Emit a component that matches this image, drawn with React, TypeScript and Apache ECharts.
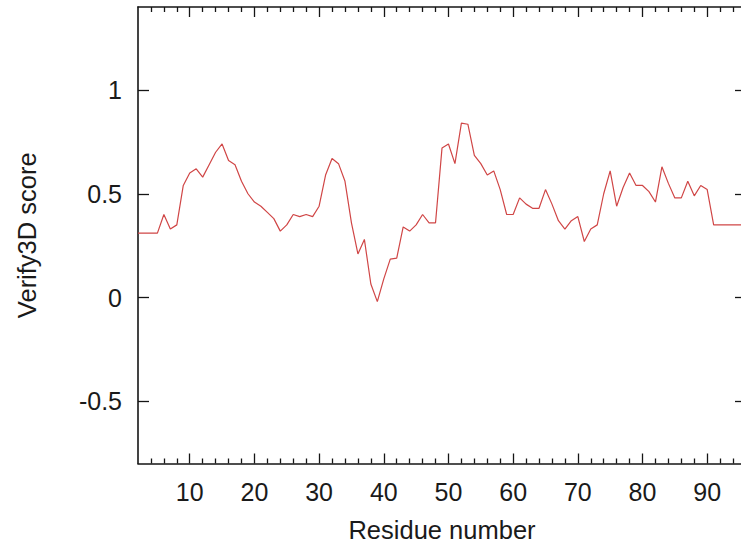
import React, { useEffect, useRef } from "react";
import * as echarts from "echarts";

const residues: number[] = [
  2, 3, 4, 5, 6, 7, 8, 9, 10, 11, 12, 13, 14, 15, 16, 17, 18, 19, 20, 21, 22, 23, 24, 25, 26, 27, 28, 29, 30, 31,
  32, 33, 34, 35, 36, 37, 38, 39, 40, 41, 42, 43, 44, 45, 46, 47, 48, 49, 50, 51, 52, 53, 54, 55, 56, 57, 58, 59, 60,
  61, 62, 63, 64, 65, 66, 67, 68, 69, 70, 71, 72, 73, 74, 75, 76, 77, 78, 79, 80, 81, 82, 83, 84, 85, 86, 87, 88, 89,
  90, 91, 92, 93, 94, 95, 96,
];

const scores: number[] = [
  0.31, 0.31, 0.31, 0.31, 0.4, 0.33, 0.35, 0.54, 0.6, 0.62, 0.58, 0.64, 0.7, 0.74, 0.66, 0.64, 0.56, 0.5, 0.46, 0.44,
  0.41, 0.38, 0.32, 0.35, 0.4, 0.39, 0.4, 0.39, 0.44, 0.59, 0.67, 0.645, 0.56, 0.36, 0.21, 0.28, 0.065, -0.02, 0.09,
  0.185, 0.19, 0.34, 0.32, 0.35, 0.4, 0.36, 0.36, 0.72, 0.74, 0.645, 0.84, 0.835, 0.685, 0.645, 0.59, 0.61, 0.52, 0.4,
  0.4, 0.48, 0.45, 0.43, 0.43, 0.52, 0.45, 0.37, 0.33, 0.37, 0.39, 0.27, 0.33, 0.35, 0.5, 0.61, 0.44, 0.53, 0.6, 0.54,
  0.54, 0.51, 0.46, 0.63, 0.55, 0.48, 0.48, 0.56, 0.49, 0.54, 0.52, 0.35, 0.35, 0.35, 0.35, 0.35, 0.35,
];

const xMajorTicks: number[] = [10, 20, 30, 40, 50, 60, 70, 80, 90];
const xMinorTicks: number[] = [
  4, 6, 8, 12, 14, 16, 18, 22, 24, 26, 28, 32, 34, 36, 38, 42, 44, 46, 48, 52, 54, 56, 58, 62, 64, 66, 68, 72, 74, 76,
  78, 82, 84, 86, 88, 92, 94,
];
const yMajorTicks: number[] = [-0.5, 0, 0.5, 1];

const X_MIN = 2;
const X_MAX = 96;
const Y_MIN = -0.8;
const Y_MAX = 1.4;

export default function App() {
  const ref = useRef<HTMLDivElement>(null);

  useEffect(() => {
    if (!ref.current) return;
    const chart = echarts.init(ref.current, undefined, { renderer: "svg" });
    const font = "'Liberation Sans', Arial, Helvetica, sans-serif";
    const axisColor = "#151515";
    const textColor = "#1a1a1a";

    const xBase = (position: "bottom" | "top", major: boolean, extra: any = {}) => ({
      type: "value",
      position,
      min: X_MIN,
      max: X_MAX,
      axisLine: { show: major, onZero: false, lineStyle: { color: axisColor, width: 1.6 } },
      axisTick: {
        show: true,
        inside: true,
        length: major ? 10 : 5,
        customValues: major ? xMajorTicks : xMinorTicks,
        lineStyle: { color: axisColor, width: 1.3 },
      },
      axisLabel: { show: false },
      splitLine: { show: false },
      ...extra,
    });

    const option: any = {
      animation: false,
      backgroundColor: "#ffffff",
      grid: { left: 138, top: 7, right: 14, bottom: 84.5, containLabel: false },
      xAxis: [
        xBase("bottom", true, {
          name: "Residue number",
          nameLocation: "middle",
          nameGap: 53,
          nameTextStyle: { fontFamily: font, fontSize: 25.5, color: textColor },
          axisLabel: {
            show: true,
            customValues: xMajorTicks,
            fontFamily: font,
            fontSize: 25,
            color: textColor,
            margin: 16,
          },
        }),
        xBase("bottom", false),
        xBase("top", true),
        xBase("top", false),
      ],
      yAxis: [
        {
          type: "value",
          position: "left",
          min: Y_MIN,
          max: Y_MAX,
          name: "Verify3D score",
          nameLocation: "middle",
          nameRotate: 90,
          nameGap: 98,
          nameTextStyle: { fontFamily: font, fontSize: 25.5, color: textColor },
          axisLine: { show: true, onZero: false, lineStyle: { color: axisColor, width: 1.6 } },
          axisTick: {
            show: true,
            inside: true,
            length: 11,
            customValues: yMajorTicks,
            lineStyle: { color: axisColor, width: 1.3 },
          },
          axisLabel: {
            show: true,
            customValues: yMajorTicks,
            fontFamily: font,
            fontSize: 25,
            color: textColor,
            margin: 16,
          },
          splitLine: { show: false },
        },
        {
          type: "value",
          position: "right",
          min: Y_MIN,
          max: Y_MAX,
          axisLine: { show: true, onZero: false, lineStyle: { color: axisColor, width: 1.6 } },
          axisTick: {
            show: true,
            inside: true,
            length: 11,
            customValues: yMajorTicks,
            lineStyle: { color: axisColor, width: 1.3 },
          },
          axisLabel: { show: false },
          splitLine: { show: false },
        },
      ],
      series: [
        {
          type: "line",
          xAxisIndex: 0,
          yAxisIndex: 0,
          data: residues.map((r, i) => [r, scores[i]]),
          showSymbol: false,
          symbol: "none",
          lineStyle: { color: "#d04646", width: 1.2 },
          itemStyle: { color: "#d04646" },
        },
      ],
    };

    chart.setOption(option);
    return () => chart.dispose();
  }, []);

  return (
    <div
      style={{
        position: "fixed",
        left: 0,
        top: 0,
        width: 741,
        height: 548,
        overflow: "hidden",
        background: "#fff",
      }}
    >
      <div ref={ref} style={{ width: 760, height: 548 }} />
    </div>
  );
}
